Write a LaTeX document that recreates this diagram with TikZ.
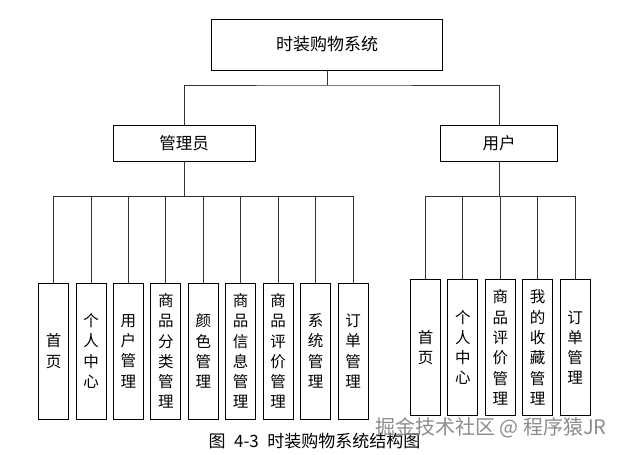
\documentclass[tikz,border=0pt]{standalone}
\usepackage{fontspec}
\setmainfont{Noto Sans CJK SC}
\tikzset{
  mainbox/.style={draw=black, line width=0.9pt, inner sep=0pt, minimum height=51, minimum width=231, font=\fontsize{17}{19}\selectfont},
  rolebox/.style={draw=black, line width=0.9pt, inner sep=0pt, minimum height=36, font=\fontsize{16.5}{18}\selectfont},
  funcbox/.style={draw=black, line width=0.9pt, inner sep=0pt, minimum width=30, minimum height=136, align=center, font=\fontsize{15.5}{20.3}\selectfont},
  link/.style={draw=black!80, line width=0.9pt}
}
\begin{document}
\begin{tikzpicture}[x=1pt, y=-1pt]
  \useasboundingbox (0,0) rectangle (630,455);
  \node (sys) at (327,44.5) [mainbox] {时装购物系统};
  \node (admin) at (184.2,143) [rolebox, minimum width=142] {管理员};
  \node (user) at (499,143) [rolebox, minimum width=117] {用户};
  % admin functions
  \node (a1) at (53.5,351) [funcbox] {首\\页};
  \node (a2) at (91,351) [funcbox] {个\\人\\中\\心};
  \node (a3) at (128.4,351) [funcbox] {用\\户\\管\\理};
  \node (a4) at (165.8,351) [funcbox] {商\\品\\分\\类\\管\\理};
  \node (a5) at (203.3,351) [funcbox] {颜\\色\\管\\理};
  \node (a6) at (240.7,351) [funcbox] {商\\品\\信\\息\\管\\理};
  \node (a7) at (278.1,351) [funcbox] {商\\品\\评\\价\\管\\理};
  \node (a8) at (315.6,351) [funcbox] {系\\统\\管\\理};
  \node (a9) at (353,351) [funcbox] {订\\单\\管\\理};
  % user functions
  \node (u1) at (425.5,347.5) [funcbox] {首\\页};
  \node (u2) at (462.9,347.5) [funcbox] {个\\人\\中\\心};
  \node (u3) at (500.3,347.5) [funcbox] {商\\品\\评\\价\\管\\理};
  \node (u4) at (537.7,347.5) [funcbox] {我\\的\\收\\藏\\管\\理};
  \node (u5) at (575.1,347.5) [funcbox] {订\\单\\管\\理};
  \coordinate (topbus) at (327,85);
  \coordinate (abus) at (184.2,196);
  \coordinate (ubus) at (499,196);
  \draw[link] (sys.south) -- (topbus);
  \draw[link] (admin.north) |- (topbus) -| (user.north);
  \draw[link] (admin.south) -- (abus);
  \draw[link] (user.south) -- (ubus);
  \foreach \i in {1,...,9}
    \draw[link] (abus) -| (a\i.north);
  \foreach \i in {1,...,5}
    \draw[link] (ubus) -| (u\i.north);
  \node (caption) at (314.5,441) [font=\fontsize{17}{19}\selectfont] {图\hspace{0.5em}4-3\hspace{0.5em}时装购物系统结构图};
  \node (mark) at (491,428) [text=black!45, font=\fontsize{20}{22}\selectfont] {掘金技术社区 @ 程序猿JR};
\end{tikzpicture}
\end{document}
